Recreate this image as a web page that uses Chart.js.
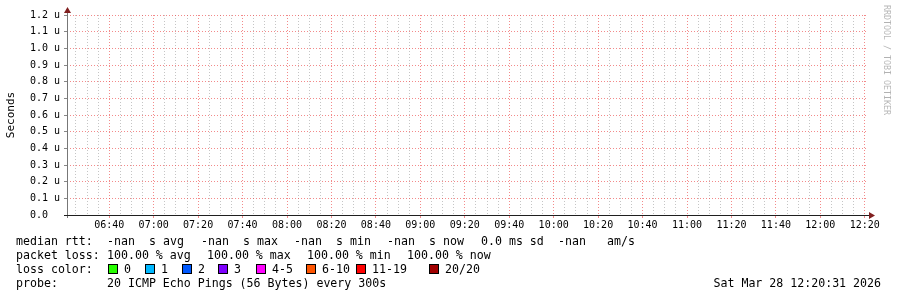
<!DOCTYPE html>
<html>
<head>
<meta charset="utf-8">
<script src="https://cdn.jsdelivr.net/npm/chart.js@4.4.1/dist/chart.umd.min.js"></script>
<style>
  html, body { margin: 0; padding: 0; background: #fff; }
  canvas { display: block; }
</style>
</head>
<body>
<canvas id="smoke" width="897" height="297"></canvas>
<script>
//------------- DATA -----------------

// time window in minutes after midnight (06:21 -> 12:21)
const startMinute = 381;
const endMinute = 741;

const timeLabels = ['06:40', '07:00', '07:20', '07:40', '08:00', '08:20', '08:40', '09:00', '09:20',
  '09:40', '10:00', '10:20', '10:40', '11:00', '11:20', '11:40', '12:00', '12:20'];

const yLabels = ['0.0', '0.1 u', '0.2 u', '0.3 u', '0.4 u', '0.5 u', '0.6 u', '0.7 u', '0.8 u',
  '0.9 u', '1.0 u', '1.1 u', '1.2 u'];

// no valid samples in the window: everything is NaN
const medianRtt = [];

const rttValues = ['-nan', '-nan', '-nan', '-nan'];
const rttNames = ['avg', 'max', 'min', 'now'];
const sdValue = '0.0';
const amsValue = '-nan';

const lossValues = ['100.00', '100.00', '100.00', '100.00'];
const lossNames = ['avg', 'max', 'min', 'now'];

const lossLabels = ['0', '1', '2', '3', '4-5', '6-10', '11-19', '20/20'];
const lossColors = ['#26ff00', '#00b8ff', '#0059ff', '#7e00ff', '#ff00ff', '#ff5500', '#ff0000', '#a10000'];

const probeText = '20 ICMP Echo Pings (56 Bytes) every 300s';
const stampText = 'Sat Mar 28 12:20:31 2026';


//------------- HELPERS -----------------

const MONO = '"DejaVu Sans Mono", "Liberation Mono", monospace';
const GRID = 'rgba(150,150,150,0.55)';
const MGRID = 'rgba(235,60,60,0.6)';
const ARROW = 'rgb(128,31,31)';

function toMinute(label) {
  const p = label.split(':');
  return Number(p[0]) * 60 + Number(p[1]);
}
const majorMinutes = timeLabels.map(toMinute);
const yValues = yLabels.map(l => parseFloat(l));

function isMajor(v) {
  return majorMinutes.includes(v);
}
function timeLabel(v) {
  const i = majorMinutes.indexOf(v);
  return i >= 0 ? timeLabels[i] : '';
}


//------------- DECORATION (axes, arrows, legend) -----------------

const rrdDecor = {
  id: 'rrdDecor',
  afterDraw(chart) {
    const c = chart.ctx;
    const a = chart.chartArea;
    c.save();

    // axes
    c.lineWidth = 1;
    c.strokeStyle = '#777';
    c.beginPath();
    c.moveTo(a.left + 0.5, a.bottom + 3);
    c.lineTo(a.left + 0.5, a.top - 3);
    c.stroke();
    c.strokeStyle = '#1f1f1f';
    c.beginPath();
    c.moveTo(a.left - 3, a.bottom + 0.5);
    c.lineTo(a.right + 3, a.bottom + 0.5);
    c.stroke();

    // arrows
    c.fillStyle = ARROW;
    c.beginPath();
    c.moveTo(a.left + 0.5, a.top - 8);
    c.lineTo(a.left - 3, a.top - 2);
    c.lineTo(a.left + 4, a.top - 2);
    c.closePath();
    c.fill();
    c.beginPath();
    c.moveTo(a.right + 8, a.bottom + 0.5);
    c.lineTo(a.right + 2, a.bottom - 3);
    c.lineTo(a.right + 2, a.bottom + 4);
    c.closePath();
    c.fill();

    // vertical axis title
    c.fillStyle = '#000';
    c.font = '11px ' + MONO;
    c.textAlign = 'center';
    c.textBaseline = 'middle';
    c.save();
    c.translate(11, (a.top + a.bottom) / 2);
    c.rotate(-Math.PI / 2);
    c.fillText('Seconds', 0, 0);
    c.restore();

    // watermark
    c.save();
    c.fillStyle = 'rgba(0,0,0,0.3)';
    c.font = '8.3px ' + MONO;
    c.translate(886, 60);
    c.rotate(Math.PI / 2);
    c.fillText('RRDTOOL / TOBI OETIKER', 0, 0);
    c.restore();

    // legend
    c.font = '11.6px ' + MONO;
    c.textAlign = 'left';
    c.textBaseline = 'alphabetic';
    c.fillStyle = '#000';

    const rttX = [107, 201, 294, 387];
    c.fillText('median rtt:', 16, 245);
    rttValues.forEach((v, i) => {
      c.fillText(v, rttX[i], 245);
      c.fillText('s ' + rttNames[i], rttX[i] + 42, 245);
    });
    c.fillText(sdValue + ' ms sd', 481, 245);
    c.fillText(amsValue, 558, 245);
    c.fillText('am/s', 607, 245);

    const lossX = [107, 207, 307, 407];
    c.fillText('packet loss:', 16, 259);
    lossValues.forEach((v, i) => {
      c.fillText(v + ' % ' + lossNames[i], lossX[i], 259);
    });

    const boxX = [109, 146, 183, 219, 257, 307, 357, 430];
    c.fillText('loss color:', 16, 273);
    lossLabels.forEach((l, i) => {
      c.fillStyle = lossColors[i];
      c.fillRect(boxX[i], 265, 8, 8);
      c.strokeStyle = '#000';
      c.strokeRect(boxX[i] - 0.5, 264.5, 9, 9);
      c.fillStyle = '#000';
      c.fillText(l, boxX[i] + 15, 273);
    });

    c.fillText('probe:', 16, 287);
    c.fillText(probeText, 107, 287);
    c.textAlign = 'right';
    c.fillText(stampText, 881, 287);

    c.restore();
  }
};


//------------- CHART -----------------

Chart.defaults.font.family = MONO;

const chart = new Chart(document.getElementById('smoke'), {
  type: 'line',
  data: {
    datasets: [{
      label: 'median rtt',
      data: medianRtt,
      borderColor: '#26ff00',
      pointRadius: 0,
      spanGaps: false
    }]
  },
  options: {
    responsive: false,
    animation: false,
    layout: { padding: { left: 0, top: 15, right: 30, bottom: 0 } },
    plugins: {
      legend: { display: false },
      tooltip: { enabled: false }
    },
    scales: {
      x: {
        type: 'linear',
        min: startMinute,
        max: endMinute,
        afterBuildTicks: (s) => {
          const t = [];
          for (let m = Math.ceil(startMinute / 5) * 5; m <= endMinute; m += 5) t.push({ value: m });
          s.ticks = t;
        },
        afterFit: (s) => { s.height = 82; },
        ticks: {
          autoSkip: false,
          maxRotation: 0,
          padding: 1,
          color: '#000',
          font: { size: 10 },
          callback: (v) => timeLabel(v)
        },
        grid: {
          color: (ctx) => isMajor(ctx.tick.value) ? MGRID : GRID,
          tickLength: 3,
          tickColor: (ctx) => isMajor(ctx.tick.value) ? MGRID : 'rgba(0,0,0,0)',
          tickBorderDash: []
        },
        border: { display: false, dash: [1, 2] }
      },
      y: {
        type: 'linear',
        min: 0,
        max: 1.2,
        afterBuildTicks: (s) => { s.ticks = yValues.map(v => ({ value: v })); },
        afterFit: (s) => { s.width = 67; },
        ticks: {
          autoSkip: false,
          padding: 4,
          color: '#000',
          font: { size: 10 },
          callback: (v, i) => {
            const l = yLabels[i];
            return l.length < 5 ? l + '  ' : l;
          }
        },
        grid: {
          color: MGRID,
          tickLength: 3,
          tickColor: '#888',
          tickBorderDash: []
        },
        border: { display: false, dash: [1, 2] }
      }
    }
  },
  plugins: [rrdDecor]
});
</script>
</body>
</html>
